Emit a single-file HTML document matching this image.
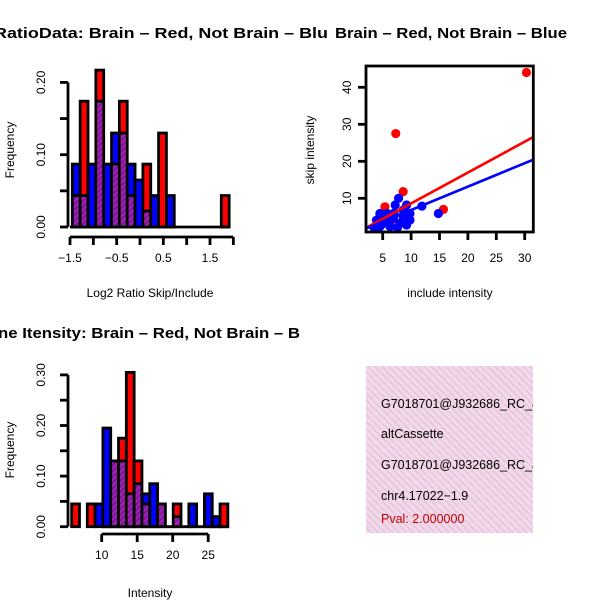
<!DOCTYPE html>
<html><head><meta charset="utf-8"><style>
html,body{margin:0;padding:0;background:#fff}
svg{display:block;font-family:"Liberation Sans",sans-serif}
</style></head><body>
<svg id="chart" width="600" height="600" viewBox="0 0 600 600" xmlns="http://www.w3.org/2000/svg">
<defs>
<pattern id="purp" patternUnits="userSpaceOnUse" width="4" height="4" patternTransform="rotate(45)">
<rect width="4" height="4" fill="#a020c0"/><rect width="2" height="4" fill="#7a1a8a"/>
</pattern>
<pattern id="pink" patternUnits="userSpaceOnUse" width="5" height="5" patternTransform="rotate(-45)">
<rect width="5" height="5" fill="#f8d4f2"/><rect width="1.6" height="5" fill="#d8d0cc"/>
</pattern>
<clipPath id="clipL"><rect x="0" y="0" width="330" height="600"/></clipPath>
<clipPath id="clipBox"><rect x="366" y="366" width="167" height="167"/></clipPath>
</defs>
<g id="p1"></g>
<g id="p2"></g>
<g id="p3"></g>
<g id="p4">
<rect x="366" y="366" width="167" height="167" fill="url(#pink)"/>
<g clip-path="url(#clipBox)" font-size="12.5">
<text x="381" y="408">G7018701@J932686_RC_at</text>
<text x="381" y="438">altCassette</text>
<text x="381" y="469">G7018701@J932686_RC_at</text>
<text x="381" y="500">chr4.17022−1.9</text>
<text x="381" y="523" fill="#c00000">Pval: 2.000000</text>
</g>
</g>
</svg>
<script>
// ---- Histogram 1: Log2 ratio ----
const ratioBinStart = -1.45;
const ratioBinWidth = 0.168;
const ratioBlue = [0.087,0.0435,0.087,0.174,0.087,0.13,0.13,0.087,0.065,0.022,0.0435,0,0.0435,0,0,0,0,0,0,0];
const ratioRed  = [0.0435,0.174,0,0.217,0,0.087,0.174,0.0435,0,0.087,0,0.13,0,0,0,0,0,0,0,0.0435];
const ratioXTicks = [-1.5,-1,-0.5,0,0.5,1,1.5,2];
const ratioXLabels = ["-1.5","-0.5","0.5","1.5"];
const ratioYTicks = [0,0.05,0.1,0.15,0.2];
const ratioYLabels = ["0.00","0.10","0.20"];
// ---- Histogram 2: Intensity ----
const intBinStart = 5.77;
const intBinWidth = 1.1;
const intBlue = [0,0,0,0.045,0.195,0.13,0.13,0.065,0.085,0.065,0.085,0.045,0,0.02,0,0.045,0,0.065,0.02,0];
const intRed  = [0.045,0,0.045,0,0,0.13,0.175,0.305,0.13,0.045,0,0.045,0,0.045,0,0,0,0,0,0.045];
const intXTicks = [10,15,20,25];
const intYTicks = [0,0.05,0.1,0.15,0.2,0.25,0.3];
const intYLabels = ["0.00","0.10","0.20","0.30"];
// ---- Scatter ----
const redInclude = [30.3,7.3,8.6,15.7,5.4,5.0,6.5];
const redSkip    = [44,27.5,11.8,7.0,7.7,3.5,4.0];
const blueInclude = [4.5,7.8,7.2,9.2,11.9,14.8,3.9,5.1,6.3,8.0,8.6,9.8,6.9,4.5,3.5,9.8,5.8,7.6,9.2,8.6,5.5,6.0,4.2,7.0];
const blueSkip    = [5.9,10,8.2,8.2,7.9,5.9,4.1,3.2,2.3,3.2,5.0,5.9,4.6,2.3,2.0,4.1,5.9,2.1,2.8,6.8,4.8,3.8,2.8,6.0];
const redFit = [0.28,0.834];   // intercept, slope
const blueFit = [0.5,0.633];
const scXTicks = [5,10,15,20,25,30];
const scYTicks = [10,20,30,40];

const NS = "http://www.w3.org/2000/svg";
function mk(parent, tag, attrs, text){
  const e = document.createElementNS(NS, tag);
  for (const k in attrs) e.setAttribute(k, attrs[k]);
  if (text !== undefined) e.textContent = text;
  parent.appendChild(e); return e;
}
const LW = 2.8;

function histogram(g, cfg){
  const xs = v => cfg.x0 + (v - cfg.xv0) * cfg.xs;
  const ys = v => cfg.y0 - v * cfg.ys;
  for (let i = 0; i < cfg.blue.length; i++){
    const b = cfg.blue[i], r = cfg.red[i];
    const l = xs(cfg.binStart + i*cfg.binW), rr = xs(cfg.binStart + (i+1)*cfg.binW);
    const mx = Math.max(b,r), mn = Math.min(b,r);
    if (mx > 0){
      const bar = mk(g,'rect',{x:l,y:ys(mx),width:rr-l,height:ys(0)-ys(mx),fill:(b>=r?'#0000ff':'#ff0000'),stroke:'#000','stroke-width':LW});
      
      
    }
    if (mn > 0){
      const ov = mk(g,'rect',{x:l+1.4,y:ys(mn),width:rr-l-2.8,height:ys(0)-ys(mn)-1.4,fill:'url(#purp)'});
      
      
      const ln = mk(g,'line',{x1:l,x2:rr,y1:ys(mn),y2:ys(mn),stroke:'#000','stroke-width':LW});
      
      
    }
  }
  mk(g,'line',{x1:cfg.x0-cfg.binW*0,x2:xs(cfg.binStart+cfg.blue.length*cfg.binW)+1,y1:ys(0),y2:ys(0),stroke:'#000','stroke-width':LW});
  const ya = mk(g,'g',{});
  
  
  const yt = cfg.yTicks;
  mk(ya,'line',{x1:cfg.yAxisX,x2:cfg.yAxisX,y1:ys(yt[0]),y2:ys(yt[yt.length-1]),stroke:'#000','stroke-width':LW});
  yt.forEach(v=>mk(ya,'line',{x1:cfg.yAxisX-8,x2:cfg.yAxisX,y1:ys(v),y2:ys(v),stroke:'#000','stroke-width':LW}));
  cfg.yLabels.forEach(s=>{
    const v = parseFloat(s), y = ys(v);
    const t = mk(ya,'text',{x:0,y:0,'font-size':12,'text-anchor':'middle',transform:`translate(${cfg.yAxisX-23},${y}) rotate(-90)`},s);
    
    
  });
  const xa = mk(g,'g',{});
  
  
  const xt = cfg.xTicks;
  mk(xa,'line',{x1:xs(xt[0]),x2:xs(xt[xt.length-1]),y1:cfg.xAxisY,y2:cfg.xAxisY,stroke:'#000','stroke-width':LW});
  xt.forEach(v=>mk(xa,'line',{x1:xs(v),x2:xs(v),y1:cfg.xAxisY,y2:cfg.xAxisY+8,stroke:'#000','stroke-width':LW}));
  cfg.xLabels.forEach(s=>{
    const t = mk(xa,'text',{x:xs(parseFloat(s)),y:cfg.xAxisY+25,'font-size':12,'text-anchor':'middle'},s.replace('-','−'));
    
    
  });
}

const g1 = document.getElementById('p1');
histogram(g1,{x0:70,xv0:-1.5,xs:46.67,y0:227,ys:723,binStart:ratioBinStart,binW:ratioBinWidth,blue:ratioBlue,red:ratioRed,
  yTicks:ratioYTicks,yLabels:ratioYLabels,yAxisX:68,xTicks:ratioXTicks,xLabels:ratioXLabels,xAxisY:237});
let t;
const c1 = mk(g1,'g',{'clip-path':'url(#clipL)'});
t = mk(c1,'text',{x:-6,y:38,'font-size':14.5,'font-weight':'bold',textLength:334,lengthAdjust:'spacingAndGlyphs'},'RatioData: Brain – Red, Not Brain – Blu');
 
t = mk(g1,'text',{x:150,y:297,'font-size':12,'text-anchor':'middle'},'Log2 Ratio Skip/Include');
 
t = mk(g1,'text',{x:0,y:0,'font-size':12,'text-anchor':'middle',transform:'translate(14,150) rotate(-90)'},'Frequency');
 

const g3 = document.getElementById('p3');
histogram(g3,{x0:101.7,xv0:10,xs:7.1,y0:526.7,ys:506,binStart:intBinStart,binW:intBinWidth,blue:intBlue,red:intRed,
  yTicks:intYTicks,yLabels:intYLabels,yAxisX:68,xTicks:intXTicks,xLabels:intXTicks.map(String),xAxisY:534});
const c3 = mk(g3,'g',{'clip-path':'url(#clipL)'});
t = mk(c3,'text',{x:-2,y:338,'font-size':14.5,'font-weight':'bold',textLength:302,lengthAdjust:'spacingAndGlyphs'},'ne Itensity: Brain – Red, Not Brain – B');
 
t = mk(g3,'text',{x:150,y:597,'font-size':12,'text-anchor':'middle'},'Intensity');
 
t = mk(g3,'text',{x:0,y:0,'font-size':12,'text-anchor':'middle',transform:'translate(14,450) rotate(-90)'},'Frequency');
 

// scatter
const g2 = document.getElementById('p2');
const sx = v => 354.3 + v*5.68;
const sy = v => 235.3 - v*3.7;
const bx0 = 366, bx1 = 533.3, by0 = 66, by1 = 232;
const cp = mk(g2,'clipPath',{id:'clipSc'});
mk(cp,'rect',{x:bx0,y:by0,width:bx1-bx0,height:by1-by0});
const inner = mk(g2,'g',{'clip-path':'url(#clipSc)'});
redInclude.forEach((v,i)=>{
  const c = mk(inner,'circle',{cx:sx(v),cy:sy(redSkip[i]),r:4.6,fill:'#ff0000'});
  
  
});
blueInclude.forEach((v,i)=>{
  const c = mk(inner,'circle',{cx:sx(v),cy:sy(blueSkip[i]),r:4.6,fill:'#0000ff'});
  
  
});
const xa0 = (bx0-354.3)/5.68, xa1 = (bx1-354.3)/5.68;
const rl = mk(inner,'line',{x1:sx(xa0),y1:sy(redFit[0]+redFit[1]*xa0),x2:sx(xa1),y2:sy(redFit[0]+redFit[1]*xa1),stroke:'#ff0000','stroke-width':2.6});
 
const bl = mk(inner,'line',{x1:sx(xa0),y1:sy(blueFit[0]+blueFit[1]*xa0),x2:sx(xa1),y2:sy(blueFit[0]+blueFit[1]*xa1),stroke:'#0000ff','stroke-width':2.6});
 
const frame = mk(g2,'rect',{x:bx0,y:by0,width:bx1-bx0,height:by1-by0,fill:'none',stroke:'#000','stroke-width':LW});
 
scXTicks.forEach(v=>{
  mk(g2,'line',{x1:sx(v),x2:sx(v),y1:by1,y2:by1+8,stroke:'#000','stroke-width':LW});
  const tt = mk(g2,'text',{x:sx(v),y:262,'font-size':12,'text-anchor':'middle'},String(v));
   
});
scYTicks.forEach(v=>{
  mk(g2,'line',{x1:bx0-8,x2:bx0,y1:sy(v),y2:sy(v),stroke:'#000','stroke-width':LW});
  const tt = mk(g2,'text',{x:0,y:0,'font-size':12,'text-anchor':'middle',transform:`translate(${bx0-15},${sy(v)}) rotate(-90)`},String(v));
   
});
t = mk(g2,'text',{x:335,y:38,'font-size':14.5,'font-weight':'bold',textLength:232,lengthAdjust:'spacingAndGlyphs'},'Brain – Red, Not Brain – Blue');
 
t = mk(g2,'text',{x:450,y:297,'font-size':12,'text-anchor':'middle'},'include intensity');
 
t = mk(g2,'text',{x:0,y:0,'font-size':12,'text-anchor':'middle',transform:'translate(314,150) rotate(-90)'},'skip intensity');
 
</script>
</body></html>
